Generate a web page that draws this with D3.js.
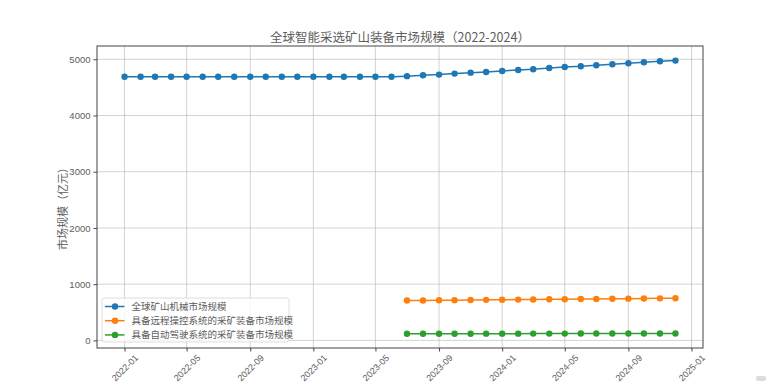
<!DOCTYPE html>
<html>
<head>
<meta charset="utf-8">
<style>
  body { margin: 0; background: #fff; }
  svg { display: block; font-family: "Noto Sans CJK SC", "Noto Sans", sans-serif; }
  .tick text { fill: #5c5c5c; }
  .grid line { stroke: #b0b0b0; stroke-opacity: .7; stroke-width: .8; }
</style>
</head>
<body>
<svg width="783" height="384"></svg>
<script src="https://d3js.org/d3.v7.min.js"></script>
<script>

// data (values in 亿元)
var seriesNames = ["全球矿山机械市场规模", "具备远程操控系统的采矿装备市场规模", "具备自动驾驶系统的采矿装备市场规模"];
var colors = ["#1f77b4", "#ff7f0e", "#2ca02c"];

var monthsAll = ["2022-01","2022-02","2022-03","2022-04","2022-05","2022-06","2022-07","2022-08","2022-09",
  "2022-10","2022-11","2022-12","2023-01","2023-02","2023-03","2023-04","2023-05","2023-06",
  "2023-07","2023-08","2023-09","2023-10","2023-11","2023-12","2024-01","2024-02","2024-03",
  "2024-04","2024-05","2024-06","2024-07","2024-08","2024-09","2024-10","2024-11","2024-12"];
var monthsLate = monthsAll.slice(18);

var mining = [4690,4690,4690,4690,4690,4690,4690,4690,4690,4690,4690,4690,4690,4690,4690,4690,4690,4690,
  4700,4715,4727,4745,4762,4774,4792,4810,4822,4845,4863,4875,4893,4911,4928,4946,4964,4976];
var remote = [710,711,714,716,718,721,723,726,728,731,733,736,738,740,743,745,748,751];
var autoDrive = [118,118,119,119,119,120,120,120,121,121,121,122,122,122,123,123,123,124];

var xTicks = ["2022-01","2022-05","2022-09","2023-01","2023-05","2023-09","2024-01","2024-05","2024-09","2025-01"];
var yTicks = [0,1000,2000,3000,4000,5000];

var parse = d3.timeParse("%Y-%m");
var series = [
  {name: seriesNames[0], color: colors[0], pts: monthsAll.map(function(m, i) { return {d: parse(m), v: mining[i]}; })},
  {name: seriesNames[1], color: colors[1], pts: monthsLate.map(function(m, i) { return {d: parse(m), v: remote[i]}; })},
  {name: seriesNames[2], color: colors[2], pts: monthsLate.map(function(m, i) { return {d: parse(m), v: autoDrive[i]}; })}
];

var svg = d3.select("svg");
var L = 97, R = 703, T = 46, B = 348;

// matplotlib-like 5% margins
var d0 = parse(monthsAll[0]), d1 = parse(monthsAll[monthsAll.length - 1]);
var pad = (d1 - d0) * 0.05;
var x = d3.scaleTime().domain([new Date(+d0 - pad), new Date(+d1 + pad)]).range([L, R]);
var y = d3.scaleLinear().domain([-135, 5236]).range([B, T]);

// grid
svg.append("g").attr("class", "grid")
  .selectAll("line").data(xTicks).enter().append("line")
    .attr("x1", function(d) { return x(parse(d)); }).attr("x2", function(d) { return x(parse(d)); })
    .attr("y1", T).attr("y2", B);
svg.append("g").attr("class", "grid")
  .selectAll("line").data(yTicks).enter().append("line")
    .attr("x1", L).attr("x2", R)
    .attr("y1", function(d) { return y(d); }).attr("y2", function(d) { return y(d); });

// axes
var xAxis = svg.append("g").attr("transform", "translate(0," + B + ")")
  .call(d3.axisBottom(x).tickValues(xTicks.map(parse)).tickFormat(d3.timeFormat("%Y-%m")).tickSize(3.5).tickSizeOuter(0));
xAxis.select(".domain").remove();
xAxis.selectAll(".tick line").attr("stroke", "#444");
xAxis.selectAll(".tick text")
  .attr("font-size", 9)
  .attr("text-anchor", "middle")
  .attr("dy", null)
  .attr("y", null)
  .attr("dominant-baseline", "central")
  .attr("transform", "translate(0,20) rotate(-45)");

var yAxis = svg.append("g").attr("transform", "translate(" + L + ",0)")
  .call(d3.axisLeft(y).tickValues(yTicks).tickFormat(d3.format("d")).tickSize(3.5).tickPadding(3).tickSizeOuter(0));
yAxis.select(".domain").remove();
yAxis.selectAll(".tick line").attr("stroke", "#444");
yAxis.selectAll(".tick text").attr("font-size", 9.5);

// frame
svg.append("rect").attr("x", L).attr("y", T).attr("width", R - L).attr("height", B - T)
  .attr("fill", "none").attr("stroke", "#444").attr("stroke-width", 1);

// lines + markers
var line = d3.line().x(function(p) { return x(p.d); }).y(function(p) { return y(p.v); });
series.forEach(function(s) {
  var g = svg.append("g");
  g.append("path").datum(s.pts).attr("d", line)
    .attr("fill", "none").attr("stroke", s.color).attr("stroke-width", 1.5);
  g.selectAll("circle").data(s.pts).enter().append("circle")
    .attr("cx", function(p) { return x(p.d); })
    .attr("cy", function(p) { return y(p.v); })
    .attr("r", 3.2).attr("fill", s.color);
});

// legend
var lg = svg.append("g").attr("transform", "translate(102,298)");
lg.append("rect").attr("width", 187).attr("height", 44).attr("rx", 2.5)
  .attr("fill", "#fff").attr("fill-opacity", 0.8).attr("stroke", "#d6d6d6").attr("stroke-width", 0.8);
series.forEach(function(s, i) {
  var row = lg.append("g").attr("transform", "translate(0," + (8.5 + i * 14.2) + ")");
  row.append("line").attr("x1", 3).attr("x2", 22.5).attr("stroke", s.color).attr("stroke-width", 1.5);
  row.append("circle").attr("cx", 13).attr("r", 3.2).attr("fill", s.color);
  row.append("text").attr("x", 29.5).attr("dy", "0.35em").attr("font-size", 9.5).attr("fill", "#5c5c5c").text(s.name);
});

// title and y label
svg.append("text").attr("x", (L + R) / 2).attr("y", 37.5).attr("dy", "0.35em")
  .attr("text-anchor", "middle").attr("font-size", 12.5).attr("fill", "#5c5c5c")
  .text("全球智能采选矿山装备市场规模（2022-2024）");
svg.append("text").attr("transform", "translate(63,206) rotate(-90)")
  .attr("text-anchor", "middle").attr("dy", "0.35em").attr("font-size", 11).attr("fill", "#5c5c5c")
  .text("市场规模（亿元）");

// small badge in the corner
svg.append("rect").attr("x", 756).attr("y", 376).attr("width", 10).attr("height", 5).attr("rx", 2)
  .attr("fill", "#ddd");

</script>
</body>
</html>
